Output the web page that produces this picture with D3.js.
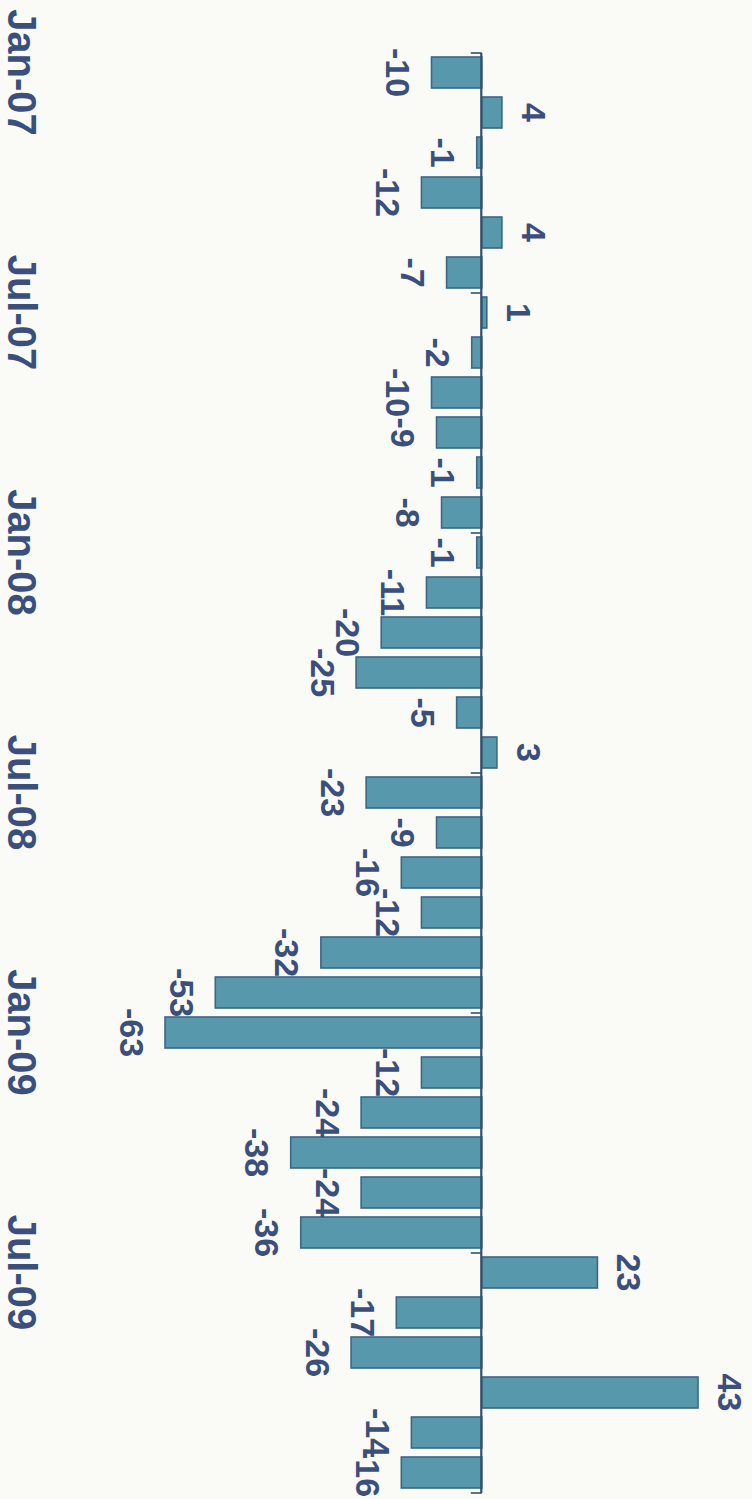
<!DOCTYPE html>
<html>
<head>
<meta charset="utf-8">
<script src="https://cdn.jsdelivr.net/npm/d3@7"></script>
<style>
  html, body { margin: 0; padding: 0; background: #fafaf7; }
  svg { display: block; }
  text { font-family: "Liberation Sans", Arial, sans-serif; font-weight: bold; }
</style>
</head>
<body>
<svg id="chart" width="752" height="1499"></svg>
<script>
const months = [
  "Jan-07","Feb-07","Mar-07","Apr-07","May-07","Jun-07","Jul-07","Aug-07","Sep-07","Oct-07","Nov-07","Dec-07",
  "Jan-08","Feb-08","Mar-08","Apr-08","May-08","Jun-08","Jul-08","Aug-08","Sep-08","Oct-08","Nov-08","Dec-08",
  "Jan-09","Feb-09","Mar-09","Apr-09","May-09","Jun-09","Jul-09","Aug-09","Sep-09","Oct-09","Nov-09","Dec-09"
];
const values = [
  -10, 4, -1, -12, 4, -7, 1, -2, -10, -9, -1, -8,
  -1, -11, -20, -25, -5, 3, -23, -9, -16, -12, -32, -53,
  -63, -12, -24, -38, -24, -36, 23, -17, -26, 43, -14, -16
];
const tickLabels = ["Jan-07","Jul-07","Jan-08","Jul-08","Jan-09","Jul-09"];
const tickBoundaries = [0, 6, 12, 18, 24, 30, 36];

const data = months.map((m, i) => ({ month: m, value: values[i] }));

// Chart is drawn in its original (landscape) frame and rotated 90deg clockwise.
const W = 1499, H = 752;
const svg = d3.select("#chart");
svg.append("rect").attr("width", 752).attr("height", 1499).attr("fill", "#fafaf7");
const g = svg.append("g").attr("transform", `translate(${H},0) rotate(90)`);

const x = d3.scaleBand().domain(months).range([52.5, 1492.5]).paddingInner(0.225).paddingOuter(0.1125);
const y = d3.scaleLinear().domain([-63, 43]).range([587, 54]);
const xb = d3.scaleLinear().domain([0, months.length]).range([52.5, 1492.5]);

const barFill = "#5898ac", barStroke = "#3d6784", textCol = "#3b4f7c", axisCol = "#33506e";

// bars
g.selectAll("rect.bar").data(data).join("rect")
  .attr("class", "bar")
  .attr("x", d => x(d.month))
  .attr("width", x.bandwidth())
  .attr("y", d => Math.min(y(d.value), y(0)))
  .attr("height", d => Math.abs(y(d.value) - y(0)))
  .attr("fill", barFill)
  .attr("stroke", barStroke)
  .attr("stroke-width", 1.6);

// zero axis with ticks at half-year boundaries
const axis = d3.axisBottom(xb).tickValues(tickBoundaries).tickSizeInner(11).tickSizeOuter(0).tickFormat("");
const ag = g.append("g").attr("transform", `translate(0,${y(0)})`).call(axis);
ag.select(".domain").attr("stroke", axisCol).attr("stroke-width", 2.2);
ag.selectAll(".tick line").attr("stroke", axisCol).attr("stroke-width", 1.6);

// value labels
const fs = 34, gap = 21;
g.selectAll("text.val").data(data).join("text")
  .attr("class", "val")
  .attr("x", d => x(d.month) + x.bandwidth() / 2)
  .attr("y", d => d.value >= 0 ? y(d.value) - gap + 1 : y(d.value) + gap + fs * 0.72)
  .attr("text-anchor", "middle")
  .attr("font-size", fs)
  .attr("fill", textCol)
  .text(d => String(d.value));

// category tick labels
g.selectAll("text.tick-label").data(tickLabels).join("text")
  .attr("class", "tick-label")
  .attr("x", d => x(d) + x.bandwidth() / 2)
  .attr("y", 744)
  .attr("text-anchor", "middle")
  .attr("font-size", 40)
  .attr("fill", textCol)
  .text(d => d);
</script>
</body>
</html>
